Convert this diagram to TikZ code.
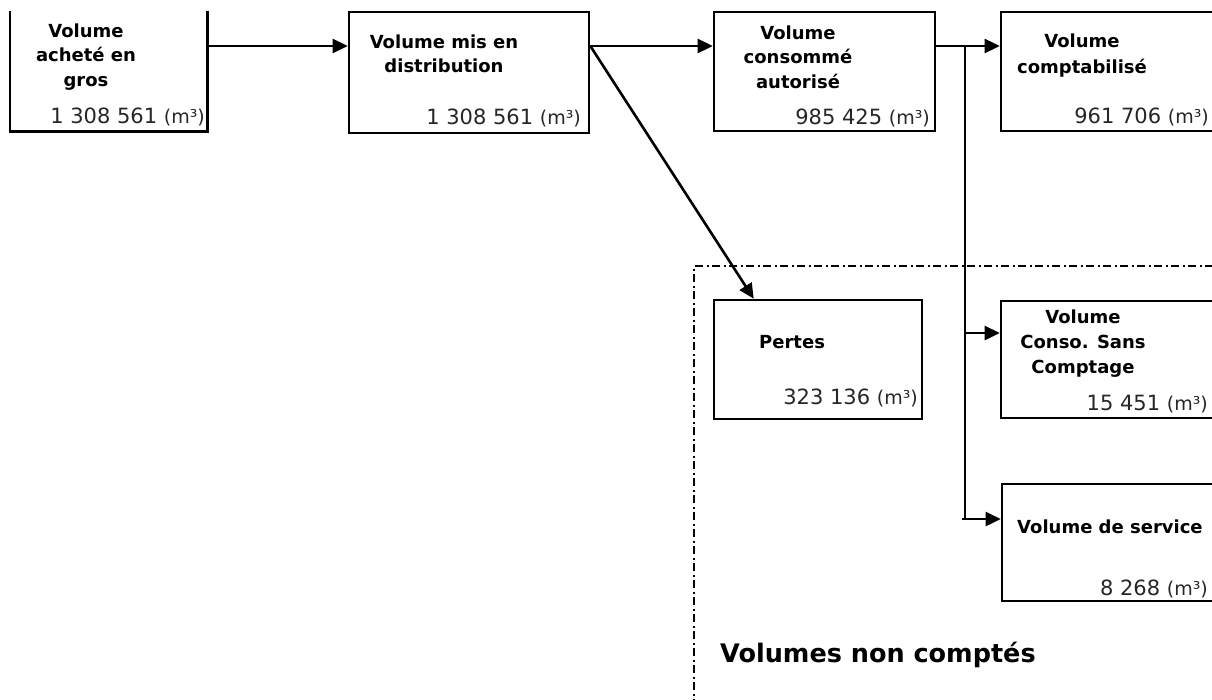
\documentclass[tikz,border=0pt]{standalone}
\usepackage{fontspec}
\setmainfont{DejaVu Sans}
\usetikzlibrary{arrows.meta}
\newcommand\mcube{{\fontsize{19}{22}\selectfont(m³)}}
\begin{document}
\begin{tikzpicture}[x=1pt,y=-1pt,
  box/.style={draw, line width=2.6pt, inner sep=0pt},
  lbl/.style={font=\bfseries\fontsize{18}{24.5}\selectfont, align=center, inner sep=0pt, anchor=north},
  num/.style={font=\fontsize{21}{25}\selectfont, inner sep=0pt, anchor=base east, text=black!85},
  conn/.style={line width=2.6pt},
  arr/.style={conn, -{Triangle[length=15pt,width=14pt]}},
  dashdot/.style={line width=2.4pt, dash pattern=on 8pt off 3.5pt on 2pt off 3.5pt}
]
\useasboundingbox (0,0) rectangle (1212,699);
\clip (0,0) rectangle (1212,699);

% boxes
\node[inner sep=0pt, minimum width=197pt, minimum height=120pt] (b1) at (108.5,71) {};
\draw[line width=2.6pt] (b1.north west) -- (b1.south west) -- (b1.south east) -- (b1.north east);
\node[box, minimum width=240pt, minimum height=121pt] (b2) at (469,72.5) {};
\node[box, minimum width=221pt, minimum height=119pt] (b3) at (824.5,71.5) {};
\node[box, minimum width=239pt, minimum height=119pt] (b4) at (1120.5,71.5) {};
\node[box, minimum width=208pt, minimum height=119pt] (b5) at (818,359.5) {};
\node[box, minimum width=239pt, minimum height=117pt] (b6) at (1120.5,359.5) {};
\node[box, minimum width=238pt, minimum height=117pt] (b7) at (1121,542.5) {};

% labels
\node[lbl] (l1) at (86,23.3) {Volume\\acheté en\\gros};
\node[lbl] (l2) at (444,34.3) {Volume mis en\\distribution};
\node[lbl] (l3) at (798,25.3) {Volume\\consommé\\autorisé};
\node[lbl, font=\bfseries\fontsize{18}{26}\selectfont] (l4) at (1082,33.3) {Volume\\comptabilisé};
\node[lbl, anchor=base west] (l5) at (759,348) {Pertes};
\node[lbl, font=\bfseries\fontsize{18}{25}\selectfont] (l6) at (1083,309.3) {Volume\\Conso. Sans\\Comptage};
\node[lbl, anchor=base west] (l7) at (1017,533) {Volume de service};

% numbers
\node[num] (n1) at (205,123) {1 308 561 \mcube};
\node[num] (n2) at (581,124) {1 308 561 \mcube};
\node[num] (n3) at (930,124) {985 425 \mcube};
\node[num] (n4) at (1209,123) {961 706 \mcube};
\node[num] (n5) at (918,404) {323 136 \mcube};
\node[num] (n6) at (1208,410) {15 451 \mcube};
\node[num] (n7) at (1208,595) {8 268 \mcube};

% region of unmetered volumes
\draw[dashdot] (1230,266) -- (694,266) -- (694,720);
\node[font=\bfseries\fontsize{25.5}{30}\selectfont, inner sep=0pt, anchor=base west] (t) at (720,662) {Volumes non comptés};

% connectors
\coordinate (r) at (0,46);
\coordinate (j) at (965,46);
\coordinate (jb) at (962,519);
\draw[arr] (b1.east |- r) -- (b2.west |- r);
\draw[arr] (b2.east |- r) -- (b3.west |- r);
\draw[arr] (b2.east |- r) -- ([xshift=41pt]b5.north west);
\draw[arr] (b3.east |- r) -- (b4.west |- r);
\draw[conn] (j) -- (j |- jb);
\draw[arr] (j |- 0,333) -- (b6.west |- 0,333);
\draw[arr] (jb) -- (b7.west |- jb);
\end{tikzpicture}
\end{document}
